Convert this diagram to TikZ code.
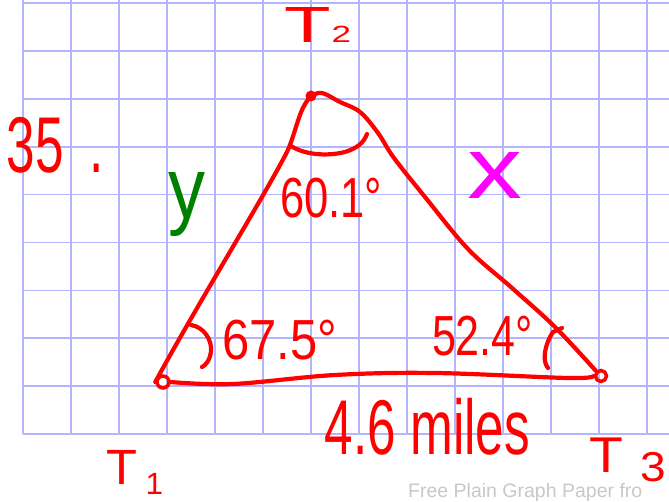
\documentclass[tikz,border=0pt]{standalone}
\usepackage{fontspec}
\setmainfont{Liberation Sans}
\usepackage{graphicx}
\definecolor{gridblue}{RGB}{180,180,252}
\definecolor{penred}{RGB}{255,0,0}
\definecolor{pengreen}{RGB}{0,128,0}
\definecolor{penmag}{RGB}{255,0,255}
\definecolor{footgray}{RGB}{200,200,200}
\begin{document}
\begin{tikzpicture}[x=1pt,y=-1pt,
  gridline/.style={gridblue, line width=1.7pt},
  pen/.style={penred, line width=4.2pt, line cap=round, line join=round},
  lbl/.style={inner sep=0pt, outer sep=0pt, text=penred},
  ringmark/.style={circle, draw=penred, line width=3.5pt, inner sep=0pt},
  dotmark/.style={circle, fill=penred, inner sep=0pt}
]
\useasboundingbox (0,0) rectangle (669,502);
\fill[white] (0,0) rectangle (669,502);
% grid paper
\foreach \i in {0,...,13} \draw[gridline] ({23+48*\i},0) -- ({23+48*\i},434);
\foreach \j in {0,...,9} \draw[gridline] (23,{3+47.9*\j}) -- (669,{3+47.9*\j});
% vertices
\coordinate (T1) at (163,382);
\coordinate (T2) at (311,96);
\coordinate (T3) at (601,376);
\node[ringmark, minimum size=12pt] (v1) at (T1) {};
\node[dotmark, minimum size=11pt] (v2) at (T2) {};
\node[ringmark, minimum size=11pt] (v3) at (T3) {};
% sides
\draw[pen] (v2.center) .. controls (298,110) and (297,130) .. (287,152)
  .. controls (262,200) and (200,300) .. (v1.west);
\draw[pen] plot[smooth, tension=0.6] coordinates {(v2.center) (322,93) (340,102) (360,112) (378,133) (394,158) (425,197) (468,249) (512,288) (555,327) (v3.north west)};
\draw[pen] plot[smooth, tension=0.6] coordinates {(v1.east) (233,384) (335,375) (435,373) (568,378) (v3.west)};
% angle arcs
\draw[pen] (291,146) .. controls (303,154) and (325,157) .. (345,152)
  .. controls (358,148) and (364,142) .. (367,134);
\draw[pen] (191,325) .. controls (204,327) and (212,340) .. (211,351)
  .. controls (210,360) and (206,365) .. (202,367);
\draw[pen] (562,328) -- (553,332) .. controls (546,342) and (541,360) .. (548,368);
% labels
\node[lbl] (lT2) at (318,25.5) {\resizebox*{66pt}{35pt}{T\scalebox{0.46}{2}}};
\node[lbl] (lT1) at (135,472) {\resizebox*{56pt}{44pt}{T\kern0.15em\raisebox{-0.2em}{\scalebox{0.62}{1}}}};
\node[lbl] (lT3) at (628,460) {\resizebox*{76pt}{44pt}{T\kern0.3em\raisebox{-0.18em}{\scalebox{0.83}{3}}}};
\node[lbl] (l35) at (55.5,145) {\resizebox*{97pt}{56pt}{35\kern0.5em.}};
\node[lbl, text=pengreen] (ly) at (186.5,205) {\resizebox*{37pt}{64pt}{y}};
\node[lbl, text=penmag] (lx) at (494.5,175) {\resizebox*{55pt}{46pt}{x}};
\node[lbl] (a2) at (331,198) {\resizebox*{102pt}{40pt}{60.1°}};
\node[lbl] (a1) at (279.5,340) {\resizebox*{115pt}{40pt}{67.5°}};
\node[lbl] (a3) at (482.5,336) {\resizebox*{101pt}{40pt}{52.4°}};
\node[lbl] (base) at (427.5,426.5) {\resizebox*{205pt}{57pt}{4.6 miles}};
\node[inner sep=0pt, anchor=base west, text=footgray, font=\fontsize{19.5}{20}\selectfont] (foot) at (408,497) {Free Plain Graph Paper fro};
\end{tikzpicture}
\end{document}
